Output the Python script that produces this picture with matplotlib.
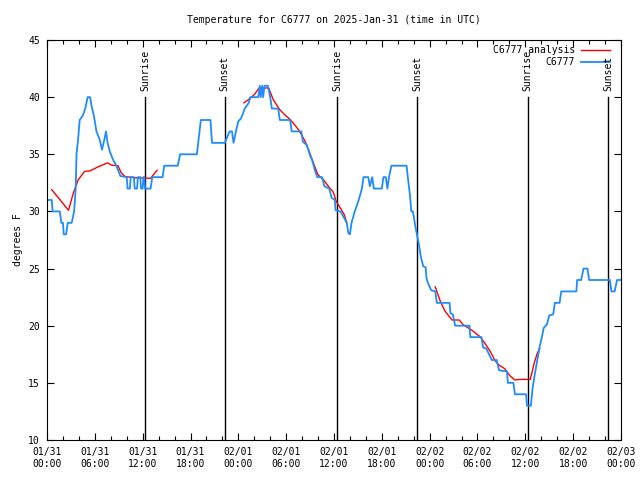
import numpy as np
import matplotlib
matplotlib.use("Agg")
import matplotlib.pyplot as plt

# hours since 01/31 00:00 UTC, temperature in degrees F
obs_hours = [0.0, 0.6, 0.7, 1.6, 1.8, 2.0, 2.1, 2.4, 2.6, 3.1, 3.4, 3.6, 3.7, 3.9,
             4.1, 4.5, 4.8, 5.1, 5.4, 5.6, 5.9, 6.2, 6.6, 6.9, 7.2, 7.4, 7.6, 7.9,
             8.3, 8.7, 9.2, 10.0, 10.1, 10.4, 10.5, 10.9, 11.0, 11.3, 11.4, 11.7,
             11.8, 12.0, 12.1, 12.2, 12.3, 13.0, 13.2, 14.5, 14.7, 16.4, 16.7,
             18.8, 19.3, 20.5, 20.7, 22.3, 22.9, 23.2, 23.4, 23.7, 24.0, 24.3,
             24.6, 24.8, 25.3, 25.5, 26.5, 26.7, 26.8, 27.0, 27.1, 27.3, 27.7,
             28.0, 28.2, 29.0, 29.2, 30.5, 30.7, 31.9, 32.1, 32.6, 33.0, 33.3,
             33.6, 33.9, 34.5, 34.8, 35.4, 35.7, 36.1, 36.2, 36.8, 37.3, 37.6,
             37.8, 38.0, 38.2, 38.6, 39.1, 39.5, 39.7, 40.3, 40.5, 40.8, 41.0,
             42.0, 42.2, 42.5, 42.7, 42.9, 43.2, 45.1, 45.3, 45.5, 45.7, 45.9,
             46.2, 46.5, 46.7, 46.9, 47.2, 47.5, 47.6, 47.8, 48.2, 48.7, 48.9,
             50.5, 50.6, 50.9, 51.2, 53.0, 53.1, 54.5, 54.7, 55.1, 55.8, 56.4,
             56.7, 57.7, 57.8, 58.5, 58.7, 60.1, 60.2, 60.7, 60.9, 61.2, 61.5,
             61.8, 62.05, 62.3, 62.7, 63.0, 63.5, 63.7, 64.3, 64.5, 66.4, 66.5,
             67.0, 67.3, 67.8, 68.0, 70.6, 70.8, 71.2, 71.5, 72.0]
obs_temp = [31, 31, 30, 30, 29, 29, 28, 28, 29, 29, 30, 32, 35, 36.3,
            38, 38.4, 39, 40, 40, 39.2, 38.3, 37, 36.3, 35.4, 36.3, 37, 36, 35.2,
            34.5, 34, 33.1, 33, 32, 32, 33, 33, 32, 32, 33, 33,
            32, 32, 33, 33, 32, 32, 33, 33, 34, 34, 35,
            35, 38, 38, 36, 36, 37, 37, 36, 37, 37.9, 38.1,
            38.6, 39, 39.5, 40, 40, 41, 40, 41, 40, 41, 41,
            40, 39, 39, 38, 38, 37, 37, 36.1, 35.8, 34.9, 34.4,
            33.6, 33, 33, 32.2, 32, 31.2, 31, 30.1, 30, 29.4, 29,
            28.1, 28, 29, 30, 31, 32, 33, 33, 32.2, 33, 32,
            32, 33, 33, 32, 33, 34, 34, 32.75, 31.6, 30, 30,
            28.7, 27.65, 26.9, 26.0, 25.2, 25.1, 24.15, 23.7, 23.1, 23, 22,
            22, 21.1, 21, 20, 20, 19, 19, 18.1, 18, 17, 17,
            16.1, 16, 15, 15, 14, 14, 13, 13, 14.5, 15.8, 17,
            18.2, 18.9, 19.8, 20.1, 20.9, 21, 22, 22, 23, 23, 24,
            24, 25, 25, 24, 24, 23, 23, 24, 24]

# analysis, three pieces separated by nan
ana_hours = [0.6, 2.7, 3.3, 3.9, 4.7, 5.4, 6.4, 7.6, 8.1, 8.9, 9.3, 9.8, 11.0, 13.0, 13.8,
             np.nan,
             24.7, 25.5, 26.1, 26.6, 27.8, 28.4, 29.2, 29.9, 30.5, 31.1, 31.7, 32.4,
             32.8, 33.2, 33.6, 34.0, 34.7, 35.3, 35.9, 36.3, 36.8, 37.3, 37.6,
             np.nan,
             48.7, 49.3, 49.9, 50.8, 51.7, 52.2, 53.3, 54.3, 54.9, 55.6, 56.2, 56.7,
             57.4, 58.1, 58.7, 59.2, 60.6, 60.8, 61.1, 61.5, 61.8]
ana_temp = [31.9, 30.1, 31.6, 32.75, 33.5, 33.55, 33.9, 34.25, 34.05, 34.0, 33.4, 33.05,
            32.95, 32.9, 33.6,
            np.nan,
            39.5, 39.9, 40.3, 40.8, 40.8, 39.75, 38.9, 38.4, 38.05, 37.55, 37.0, 36.1,
            35.4, 34.65, 33.9, 33.2, 32.75, 32.2, 31.7, 30.85, 30.3, 29.7, 29.0,
            np.nan,
            23.4, 22.2, 21.3, 20.5, 20.5, 20.1, 19.6, 19.05, 18.5, 17.75, 16.95, 16.55,
            16.25, 15.6, 15.25, 15.3, 15.3, 15.8, 16.7, 17.6, 18.0]

sun_hours = [12.3, 22.3, 36.4, 46.4, 60.3, 70.4]
sun_names = ["Sunrise", "Sunset", "Sunrise", "Sunset", "Sunrise", "Sunset"]

tick_hours = list(range(0, 73, 6))
tick_labels = ["01/31\n00:00", "01/31\n06:00", "01/31\n12:00", "01/31\n18:00",
               "02/01\n00:00", "02/01\n06:00", "02/01\n12:00", "02/01\n18:00",
               "02/02\n00:00", "02/02\n06:00", "02/02\n12:00", "02/02\n18:00",
               "02/03\n00:00"]

plt.rcParams['font.family'] = ['DejaVu Sans Mono']
plt.rcParams['font.size'] = 7

fig = plt.figure(figsize=(6.4, 4.8), dpi=100)
ax = fig.add_axes([47/640, 40/480, 574/640, 400/480])

for h, name in zip(sun_hours, sun_names):
    ax.plot([h, h], [10, 40], color='black', lw=1.0)
    ax.text(h, 40.5, name, rotation=90, ha='center', va='bottom', fontsize=7)

ax.plot(ana_hours, ana_temp, color='#ff0000', lw=1.0)
ax.plot(obs_hours, obs_temp, color='#1e8cff', lw=1.3)

ax.set_xlim(0, 72)
ax.set_ylim(10, 45)
ax.set_xticks(tick_hours)
ax.set_xticklabels(tick_labels)
ax.set_xticks(range(0, 73, 2), minor=True)
ax.set_yticks(range(10, 46, 5))
ax.tick_params(direction='in', top=True, right=True, length=5, width=0.8, pad=5)
ax.tick_params(which='minor', direction='in', top=True, length=3, width=0.8)
ax.set_ylabel("degrees F", fontsize=7)
ax.set_title("Temperature for C6777 on 2025-Jan-31 (time in UTC)", fontsize=7, pad=12)

# gnuplot style key, text right aligned
ax.text(0.92, 0.975, "C6777 analysis", transform=ax.transAxes, ha='right', va='center')
ax.plot([0.930, 0.981], [0.975, 0.975], transform=ax.transAxes, color='#ff0000', lw=1.0)
ax.text(0.92, 0.945, "C6777", transform=ax.transAxes, ha='right', va='center')
ax.plot([0.930, 0.981], [0.945, 0.945], transform=ax.transAxes, color='#1e8cff', lw=1.3)
ax.set_xlim(0, 72)
ax.set_ylim(10, 45)

fig.savefig("out.png")
